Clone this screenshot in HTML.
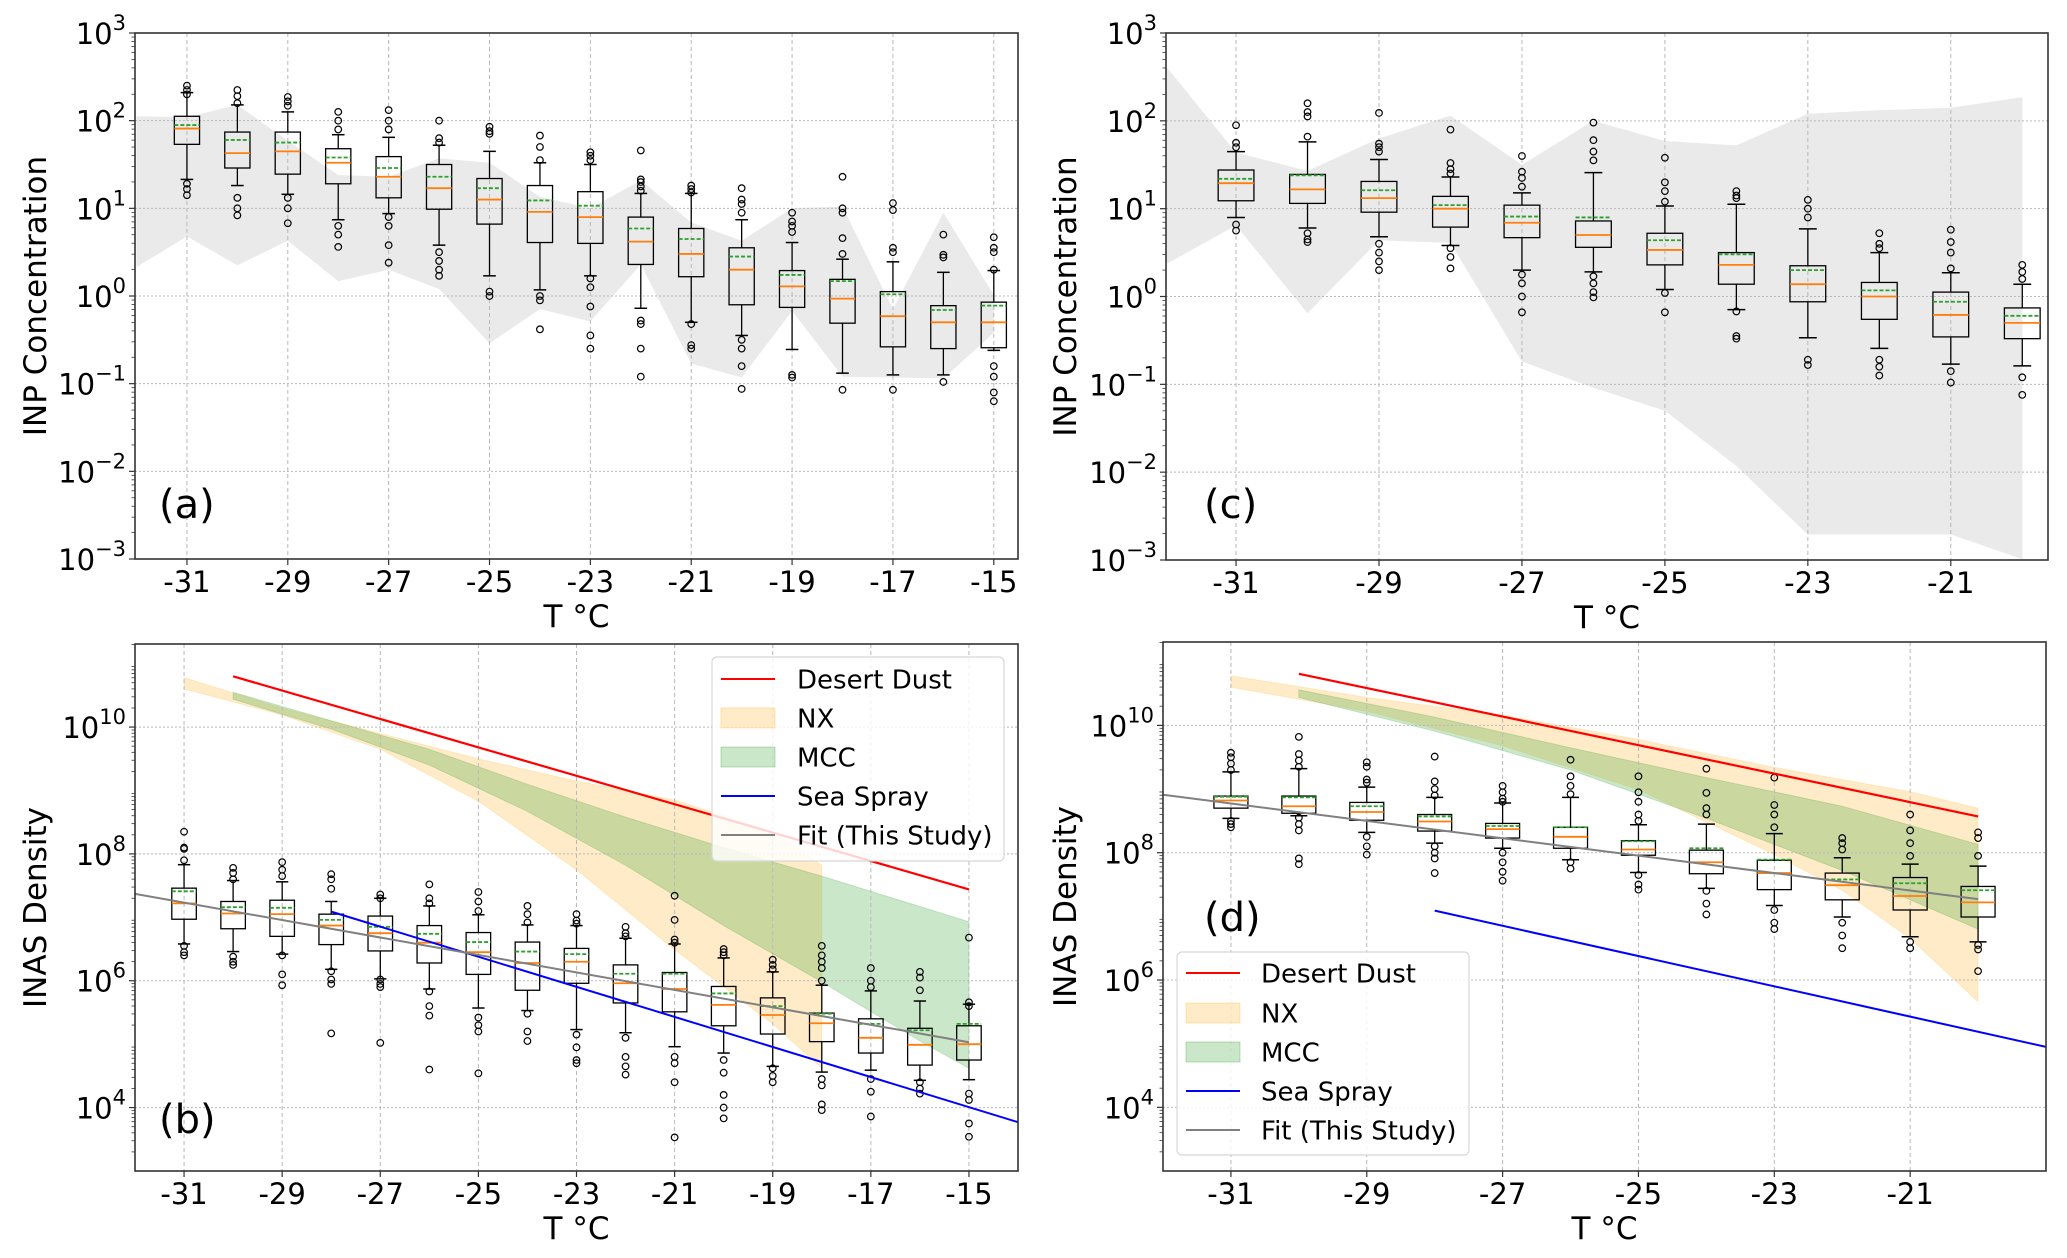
<!DOCTYPE html>
<html><head><meta charset="utf-8">
<style>
html,body{margin:0;padding:0;background:#fff;}
svg{display:block;font-family:"DejaVu Sans","Liberation Sans",sans-serif;}
</style></head>
<body>
<svg id="fig" width="2067" height="1258" viewBox="0 0 2067 1258" xmlns="http://www.w3.org/2000/svg"></svg>
<script>
// ---------- Panel (a): INP concentration, log10 values ----------
const aT = [-31,-30,-29,-28,-27,-26,-25,-24,-23,-22,-21,-20,-19,-18,-17,-16,-15];
const aQ3 = [2.05,1.87,1.87,1.68,1.59,1.50,1.34,1.26,1.19,0.90,0.77,0.55,0.29,0.19,0.05,-0.11,-0.07];
const aQ1 = [1.73,1.46,1.39,1.28,1.12,0.99,0.82,0.61,0.60,0.36,0.22,-0.10,-0.13,-0.31,-0.58,-0.60,-0.59];
const aMed = [1.91,1.63,1.65,1.52,1.36,1.23,1.10,0.96,0.90,0.62,0.48,0.30,0.11,-0.03,-0.23,-0.30,-0.30];
const aMean = [1.95,1.78,1.75,1.58,1.46,1.36,1.23,1.09,1.03,0.77,0.65,0.45,0.24,0.17,0.02,-0.16,-0.11];
const aWhi = [2.32,2.18,2.10,1.84,1.81,1.72,1.65,1.52,1.50,1.17,1.17,0.87,0.61,0.42,0.39,0.27,0.29];
const aWlo = [1.33,1.26,1.16,0.87,0.94,0.58,0.23,0.07,0.23,-0.14,-0.30,-0.45,-0.61,-0.88,-0.90,-0.90,-0.62];
const aOut = [[2.40,2.35,2.30,1.28,1.22,1.15],[2.35,2.28,2.2,1.12,1.0,0.92],[2.27,2.22,2.17,1.12,1.0,0.83],[2.1,2.0,1.9,0.8,0.7,0.56],[2.12,2.0,1.9,0.9,0.8,0.58,0.38],[2.0,1.8,1.75,0.5,0.4,0.3,0.23],[1.93,1.88,1.85,0.05,0.0],[1.83,1.7,1.55,0.0,-0.05,-0.38],[1.64,1.6,1.55,0.2,0.1,-0.12,-0.45,-0.6],[1.66,1.33,1.3,1.25,1.2,-0.28,-0.32,-0.6,-0.92],[1.26,1.22,1.18,-0.32,-0.56,-0.6],[1.23,1.1,1.05,0.95,-0.5,-0.6,-0.8,-1.06],[0.95,0.85,0.8,0.73,-0.9,-0.93],[1.36,1.0,0.95,0.66,0.48,-1.07],[1.06,0.98,0.55,0.5,-1.07],[0.70,0.47,0.44,-0.98],[0.67,0.55,0.5,0.3,-0.8,-0.92,-1.1,-1.2]];
const aShadeT = [-32,-31,-30,-29,-28,-27,-26,-25,-24,-23,-22,-21,-20,-19,-18,-17,-16,-15];
const aShadeHi = [2.05,2.04,2.18,1.77,1.38,1.36,1.57,1.52,1.13,1.0,1.32,0.84,0.63,1.0,1.02,-0.15,0.95,0.01];
const aShadeLo = [0.33,0.68,0.35,0.63,0.17,0.30,0.08,-0.54,-0.15,-0.29,0.36,-0.77,-0.93,-0.17,-0.92,-0.93,-0.94,-0.42];

// ---------- Panel (c) ----------
const cT = [-31,-30,-29,-28,-27,-26,-25,-24,-23,-22,-21,-20];
const cQ3 = [1.44,1.39,1.31,1.14,1.04,0.86,0.72,0.50,0.35,0.16,0.05,-0.13];
const cQ1 = [1.09,1.06,0.96,0.79,0.67,0.56,0.36,0.14,-0.06,-0.26,-0.46,-0.48];
const cMed = [1.29,1.22,1.12,1.0,0.84,0.70,0.53,0.36,0.14,0.0,-0.21,-0.30];
const cMean = [1.34,1.38,1.21,1.04,0.91,0.90,0.64,0.48,0.30,0.07,-0.06,-0.22];
const cWhi = [1.65,1.76,1.56,1.36,1.18,1.41,1.03,1.05,0.77,0.50,0.27,0.14];
const cWlo = [0.90,0.78,0.68,0.58,0.30,0.28,0.08,-0.15,-0.47,-0.59,-0.77,-0.79];
const cOut = [[1.95,1.75,1.7,0.82,0.75],[2.2,2.1,2.05,1.82,0.72,0.65,0.62],[2.09,1.74,1.7,1.65,0.6,0.5,0.4,0.3],[1.9,1.52,1.45,1.4,0.55,0.45,0.32],[1.6,1.42,1.35,1.25,0.25,0.15,0.0,-0.18],[1.98,1.78,1.65,1.55,0.23,0.15,0.05,-0.01],[1.58,1.3,1.2,1.08,0.04,-0.18],[1.2,1.15,1.12,-0.17,-0.45,-0.48],[1.1,1.0,0.9,-0.72,-0.78],[0.72,0.6,0.55,-0.72,-0.8,-0.9],[0.76,0.62,0.5,0.32,-0.85,-0.98],[0.36,0.28,0.2,-0.92,-1.12]];
const cShadeT = [-32,-31,-30,-29,-28,-27,-26,-25,-24,-23,-22,-21,-20];
const cShadeHi = [2.64,1.64,1.43,1.80,2.06,1.50,2.00,1.77,1.72,2.08,2.12,2.15,2.27];
const cShadeLo = [0.36,0.81,-0.19,0.64,0.61,-0.74,-1.04,-1.30,-1.93,-2.71,-2.71,-2.71,-2.99];

// ---------- Panel (b): INAS density, log10 values ----------
const bT = [-31,-30,-29,-28,-27,-26,-25,-24,-23,-22,-21,-20,-19,-18,-17,-16,-15];
const bQ3 = [7.46,7.25,7.27,7.05,7.02,6.87,6.76,6.61,6.51,6.25,6.13,5.91,5.73,5.49,5.40,5.25,5.29];
const bQ1 = [6.97,6.82,6.70,6.57,6.47,6.28,6.10,5.85,5.96,5.65,5.51,5.29,5.16,5.04,4.86,4.67,4.75];
const bMed = [7.22,7.06,7.05,6.87,6.75,6.60,6.45,6.28,6.30,5.96,5.87,5.62,5.46,5.33,5.10,4.99,5.0];
const bMean = [7.41,7.16,7.15,6.96,6.85,6.74,6.61,6.46,6.42,6.11,6.11,5.80,5.60,5.48,5.32,5.22,5.32];
const bWhi = [7.83,7.58,7.56,7.25,7.30,7.18,7.04,6.88,6.87,6.67,6.58,6.36,6.14,5.93,5.84,5.68,5.63];
const bWlo = [6.58,6.46,6.42,6.18,6.03,5.87,5.57,5.53,5.23,5.18,4.96,4.86,4.65,4.56,4.59,4.43,4.44];
const bOut = [[8.35,8.1,8.08,7.9,6.55,6.45,6.4],[7.78,7.7,7.6,6.38,6.3,6.25],[7.87,7.75,7.65,6.4,6.1,5.93],[7.68,7.6,7.45,6.15,6.02,5.95,5.17],[7.36,7.3,6.02,5.95,5.9,5.02],[7.52,7.3,7.22,5.83,5.6,5.45,4.6],[7.4,7.25,7.1,5.42,5.3,5.2,4.54],[7.18,7.05,6.92,5.48,5.2,5.05],[7.05,6.95,6.9,5.15,4.95,4.75,4.7],[6.85,6.75,6.7,5.1,4.8,4.65,4.52],[7.34,6.96,6.65,6.6,4.8,4.7,4.4,3.53],[6.5,6.45,6.4,4.75,4.55,4.2,4.0,3.83],[6.33,6.25,6.18,4.62,4.5,4.4],[6.55,6.4,6.3,6.2,6.0,4.45,4.35,4.05,3.96],[6.2,6.0,5.9,4.45,4.25,3.86],[6.14,6.05,5.85,4.4,4.3,4.22],[6.68,5.66,5.6,4.22,4.12,3.75,3.54]];
const bDustT = [-30,-15], bDustV = [10.80,7.44];
const bSeaT = [-28,-14], bSeaV = [7.09,3.77];
const bFitT = [-32,-15], bFitV = [7.37,5.03];
const bNxT = [-31,-29,-27,-25,-23,-21,-19,-18];
const bNxHi = [10.78,10.30,9.90,9.50,9.15,8.85,8.35,7.82];
const bNxLo = [10.60,10.19,9.65,8.83,7.75,6.49,5.32,4.62];
const bMccT = [-30,-28,-26,-24,-22,-20,-18,-16,-15];
const bMccHi = [10.55,10.10,9.65,9.10,8.58,8.10,7.65,7.17,6.93];
const bMccLo = [10.44,9.97,9.40,8.67,7.82,6.87,5.98,5.05,4.62];

// ---------- Panel (d) ----------
const dT = [-31,-30,-29,-28,-27,-26,-25,-24,-23,-22,-21,-20];
const dQ3 = [8.89,8.89,8.79,8.60,8.46,8.40,8.19,8.04,7.88,7.68,7.61,7.47];
const dQ1 = [8.70,8.62,8.51,8.34,8.23,8.07,7.96,7.67,7.42,7.26,7.10,6.99];
const dMed = [8.82,8.73,8.64,8.49,8.37,8.25,8.05,7.85,7.68,7.49,7.32,7.22];
const dMean = [8.88,8.87,8.73,8.57,8.42,8.40,8.18,8.07,7.89,7.58,7.52,7.41];
const dWhi = [9.27,9.32,9.03,8.87,8.78,8.87,8.44,8.45,8.30,7.92,7.82,7.79];
const dWlo = [8.54,8.58,8.32,8.15,8.07,7.89,7.69,7.44,7.17,6.99,6.68,6.60];
const dOut = [[9.57,9.5,9.4,9.3,8.5,8.45,8.4],[9.82,9.55,9.45,9.35,8.55,8.45,8.35,7.91,7.82],[9.42,9.35,9.15,9.1,8.25,8.1,7.97],[9.51,9.12,9.0,8.9,8.1,8.0,7.91,7.68],[9.05,8.95,8.85,8.8,8.0,7.85,7.7,7.56],[9.46,9.2,9.05,8.92,7.85,7.75],[9.2,8.95,8.8,8.6,8.5,7.65,7.5,7.42],[9.32,8.94,8.7,8.6,7.4,7.2,7.03],[9.18,8.75,8.6,8.4,7.1,6.9,6.8],[8.23,8.15,8.05,6.9,6.7,6.5],[8.6,8.35,8.15,7.95,6.6,6.5],[8.32,8.23,7.95,6.55,6.48,6.14]];
const dDustT = [-30,-20], dDustV = [10.81,8.57];
const dSeaT = [-28,-19], dSeaV = [7.09,4.95];
const dFitT = [-32,-20], dFitV = [8.91,7.27];
const dNxT = [-31,-29,-27,-25,-23,-22,-21,-20];
const dNxHi = [10.78,10.44,10.16,9.78,9.34,9.15,8.96,8.70];
const dNxLo = [10.60,10.22,9.68,8.99,7.97,7.41,6.65,5.66];
const dMccT = [-30,-28,-26,-24,-22,-20];
const dMccHi = [10.56,10.13,9.65,9.18,8.73,8.13];
const dMccLo = [10.44,9.91,9.30,8.54,7.72,6.80];

const tickA = [-31,-29,-27,-25,-23,-21,-19,-17,-15];
const tickC = [-31,-29,-27,-25,-23,-21];
const yTickAC = [-3,-2,-1,0,1,2,3];
const yTickBD = [4,6,8,10];

const NS = "http://www.w3.org/2000/svg";
const svg = document.getElementById('fig');
function mk(tag, attrs, parent){
  const e = document.createElementNS(NS, tag);
  for (const k in attrs) e.setAttribute(k, attrs[k]);
  (parent || svg).appendChild(e);
  return e;
}
const defs = mk('defs', {});

function panel(id, g, xTicks, yTicks, yTitle, label, labelPos){
  const sx = t => g.x0 + (t - g.xmin) / (g.xmax - g.xmin) * (g.x1 - g.x0);
  const sy = v => g.y1 - (v - g.ymin) / (g.ymax - g.ymin) * (g.y1 - g.y0);
  const grp = mk('g', {});
  
  
  const cp = mk('clipPath', {id: 'clip-' + id}, defs);
  mk('rect', {x: g.x0, y: g.y0, width: g.x1 - g.x0, height: g.y1 - g.y0}, cp);
  const plot = mk('g', {'clip-path': 'url(#clip-' + id + ')'}, grp);
  
  
  return {sx, sy, grp, plot, g, xTicks, yTicks, yTitle, label, labelPos, id};
}

function band(P, T, hi, lo, fill, stroke, name){
  let d = '';
  T.forEach((t,i) => { d += (i ? 'L' : 'M') + P.sx(t).toFixed(1) + ',' + P.sy(hi[i]).toFixed(1); });
  for (let i = T.length - 1; i >= 0; i--) d += 'L' + P.sx(T[i]).toFixed(1) + ',' + P.sy(lo[i]).toFixed(1);
  const p = mk('path', {d: d + 'Z', fill: fill, stroke: stroke, 'stroke-width': 1}, P.plot);
  
  
}

function line(P, T, V, color, w, name){
  const l = mk('line', {x1: P.sx(T[0]), y1: P.sy(V[0]), x2: P.sx(T[1]), y2: P.sy(V[1]), stroke: color, 'stroke-width': w}, P.plot);
  
  
}

function grid(P){
  const g = P.g;
  P.xTicks.forEach(t => {
    const x = P.sx(t);
    const l = mk('line', {x1: x, y1: g.y0, x2: x, y2: g.y1, stroke: '#b8b8b8', 'stroke-width': 1, 'stroke-dasharray': '4,3'}, P.plot);
    
    
  });
  P.yTicks.forEach(v => {
    const y = P.sy(v);
    const l = mk('line', {x1: g.x0, y1: y, x2: g.x1, y2: y, stroke: '#b8b8b8', 'stroke-width': 1, 'stroke-dasharray': '2,2'}, P.plot);
    
    
  });
}

function boxes(P, T, q1, q3, med, mean, wlo, whi, outs){
  T.forEach((t,i) => {
    const bg = mk('g', {}, P.plot);
    
    
    const xl = P.sx(t - 0.25), xr = P.sx(t + 0.25), xc = P.sx(t);
    const cl = P.sx(t - 0.125), cr = P.sx(t + 0.125);
    mk('line', {x1: xc, y1: P.sy(q3[i]), x2: xc, y2: P.sy(whi[i]), stroke: '#000', 'stroke-width': 1.3}, bg);
    mk('line', {x1: xc, y1: P.sy(q1[i]), x2: xc, y2: P.sy(wlo[i]), stroke: '#000', 'stroke-width': 1.3}, bg);
    mk('line', {x1: cl, y1: P.sy(whi[i]), x2: cr, y2: P.sy(whi[i]), stroke: '#000', 'stroke-width': 1.5}, bg);
    mk('line', {x1: cl, y1: P.sy(wlo[i]), x2: cr, y2: P.sy(wlo[i]), stroke: '#000', 'stroke-width': 1.5}, bg);
    mk('rect', {x: xl, y: P.sy(q3[i]), width: xr - xl, height: P.sy(q1[i]) - P.sy(q3[i]), fill: 'none', stroke: '#000', 'stroke-width': 1.3}, bg);
    mk('line', {x1: xl, y1: P.sy(med[i]), x2: xr, y2: P.sy(med[i]), stroke: '#ff7f0e', 'stroke-width': 1.8}, bg);
    mk('line', {x1: xl, y1: P.sy(mean[i]), x2: xr, y2: P.sy(mean[i]), stroke: '#2ca02c', 'stroke-width': 1.8, 'stroke-dasharray': '4,2'}, bg);
    outs[i].forEach(v => {
      const c = mk('circle', {cx: xc, cy: P.sy(v), r: 3.3, fill: 'none', stroke: '#000', 'stroke-width': 1.2}, bg);
      
      
    });
  });
}

function axes(P, expLabels){
  const g = P.g, grp = P.grp;
  const fr = mk('rect', {x: g.x0, y: g.y0, width: g.x1 - g.x0, height: g.y1 - g.y0, fill: 'none', stroke: '#333', 'stroke-width': 1.6}, grp);
  
  
  P.xTicks.forEach(t => {
    const x = P.sx(t);
    mk('line', {x1: x, y1: g.y1, x2: x, y2: g.y1 + 6, stroke: '#333', 'stroke-width': 1.2}, grp);
    const tx = mk('text', {x: x, y: g.y1 + 33, 'text-anchor': 'middle', 'font-size': 29, fill: '#000'}, grp);
    tx.textContent = String(t);
    
    
  });
  // minor log ticks
  for (let dec = Math.floor(g.ymin); dec < Math.ceil(g.ymax); dec++) {
    for (let m = 2; m <= 9; m++) {
      const v = dec + Math.log10(m);
      if (v <= g.ymin || v >= g.ymax) continue;
      mk('line', {x1: g.x0 - 3.5, y1: P.sy(v), x2: g.x0, y2: P.sy(v), stroke: '#333', 'stroke-width': 0.8}, grp);
    }
  }
  P.yTicks.forEach(v => {
    const y = P.sy(v);
    mk('line', {x1: g.x0 - 6, y1: y, x2: g.x0, y2: y, stroke: '#333', 'stroke-width': 1.2}, grp);
    const tx = mk('text', {x: g.x0 - 9, y: y + 11, 'text-anchor': 'end', 'font-size': 29, fill: '#000'}, grp);
    
    
    const t1 = mk('tspan', {}, tx); t1.textContent = '10';
    const t2 = mk('tspan', {dy: -14, 'font-size': 21}, tx);
    t2.textContent = v < 0 ? '\u2212' + Math.abs(v) : String(v);
  });
  const xt = mk('text', {x: (g.x0 + g.x1) / 2, y: g.y1 + 68, 'text-anchor': 'middle', 'font-size': 31, fill: '#000'}, grp);
  xt.textContent = 'T \u00B0C';
  
  
  const yx = P.yTitleX, yc = (g.y0 + g.y1) / 2;
  const yt = mk('text', {x: yx, y: yc, 'text-anchor': 'middle', 'font-size': 31, fill: '#000', transform: 'rotate(-90 ' + yx + ' ' + yc + ')'}, grp);
  yt.textContent = P.yTitle;
  
  
  const lb = mk('text', {x: P.labelPos[0], y: P.labelPos[1], 'font-size': 40, fill: '#000'}, grp);
  lb.textContent = P.label;
  
  
}

function legend(P, x, y, w, h, rowY, hx, tx){
  const lg = mk('g', {}, P.grp);
  
  
  mk('rect', {x: x, y: y, width: w, height: h, rx: 5, fill: 'rgba(255,255,255,0.82)', stroke: '#d8d8d8', 'stroke-width': 1.2}, lg);
  const names = ['Desert Dust','NX','MCC','Sea Spray','Fit (This Study)'];
  const keys = ['legend-entry-desert-dust','legend-entry-nx','legend-entry-mcc','legend-entry-sea-spray','legend-entry-fit'];
  names.forEach((n,i) => {
    const ey = rowY[i];
    const eg = mk('g', {}, lg);
    
    
    if (i === 0) mk('line', {x1: hx, y1: ey, x2: hx + 54, y2: ey, stroke: '#ff0000', 'stroke-width': 2}, eg);
    if (i === 1) mk('rect', {x: hx, y: ey - 10, width: 54, height: 20, fill: 'rgba(255,165,0,0.22)', stroke: 'rgba(255,165,0,0.25)'}, eg);
    if (i === 2) mk('rect', {x: hx, y: ey - 10, width: 54, height: 20, fill: 'rgba(44,160,44,0.25)', stroke: 'rgba(44,160,44,0.3)'}, eg);
    if (i === 3) mk('line', {x1: hx, y1: ey, x2: hx + 54, y2: ey, stroke: '#0000ff', 'stroke-width': 2}, eg);
    if (i === 4) mk('line', {x1: hx, y1: ey, x2: hx + 54, y2: ey, stroke: '#808080', 'stroke-width': 2}, eg);
    const t = mk('text', {x: tx, y: ey + 9.5, 'font-size': 26, fill: '#000'}, eg);
    t.textContent = n;
  });
}

// ---- Panel a ----
const PA = panel('a', {x0:135,x1:1018,y0:33,y1:559,xmin:-32.03,xmax:-14.52,ymin:-3,ymax:3}, tickA, yTickAC, 'INP Concentration', '(a)', [159,518]);
PA.yTitleX = 46;
band(PA, aShadeT, aShadeHi, aShadeLo, 'rgba(200,200,200,0.38)', 'none', 'range-shading');
grid(PA);
boxes(PA, aT, aQ1, aQ3, aMed, aMean, aWlo, aWhi, aOut);
axes(PA);

// ---- Panel c ----
const PC = panel('c', {x0:1166,x1:2048,y0:33,y1:560,xmin:-31.98,xmax:-19.64,ymin:-3,ymax:3}, tickC, yTickAC, 'INP Concentration', '(c)', [1204,518]);
PC.yTitleX = 1076;
band(PC, cShadeT, cShadeHi, cShadeLo, 'rgba(200,200,200,0.38)', 'none', 'range-shading');
grid(PC);
boxes(PC, cT, cQ1, cQ3, cMed, cMean, cWlo, cWhi, cOut);
axes(PC);

// ---- Panel b ----
const PB = panel('b', {x0:135,x1:1018,y0:644,y1:1171,xmin:-32,xmax:-14,ymin:3,ymax:11.31}, tickA, yTickBD, 'INAS Density', '(b)', [159,1133]);
PB.yTitleX = 46;
band(PB, bNxT, bNxHi, bNxLo, 'rgba(255,165,0,0.22)', 'rgba(255,165,0,0.15)', 'nx-band');
band(PB, bMccT, bMccHi, bMccLo, 'rgba(44,160,44,0.25)', 'rgba(44,160,44,0.2)', 'mcc-band');
grid(PB);
boxes(PB, bT, bQ1, bQ3, bMed, bMean, bWlo, bWhi, bOut);
line(PB, bDustT, bDustV, '#ff0000', 2.2, 'desert-dust-line');
line(PB, bSeaT, bSeaV, '#0000ff', 2, 'sea-spray-line');
line(PB, bFitT, bFitV, '#808080', 2, 'fit-line');
axes(PB);
legend(PB, 712, 657, 292, 204, [679,718,757,796,835], 721, 797);

// ---- Panel d ----
const PD = panel('d', {x0:1163,x1:2046,y0:642,y1:1171,xmin:-32,xmax:-19,ymin:3,ymax:11.31}, tickC, yTickBD, 'INAS Density', '(d)', [1204,931]);
PD.yTitleX = 1076;
band(PD, dNxT, dNxHi, dNxLo, 'rgba(255,165,0,0.22)', 'rgba(255,165,0,0.15)', 'nx-band');
band(PD, dMccT, dMccHi, dMccLo, 'rgba(44,160,44,0.25)', 'rgba(44,160,44,0.2)', 'mcc-band');
grid(PD);
boxes(PD, dT, dQ1, dQ3, dMed, dMean, dWlo, dWhi, dOut);
line(PD, dDustT, dDustV, '#ff0000', 2.2, 'desert-dust-line');
line(PD, dSeaT, dSeaV, '#0000ff', 2, 'sea-spray-line');
line(PD, dFitT, dFitV, '#808080', 2, 'fit-line');
axes(PD);
legend(PD, 1177, 952, 292, 203, [973,1013,1052,1091,1130], 1186, 1261);
</script>
</body></html>
